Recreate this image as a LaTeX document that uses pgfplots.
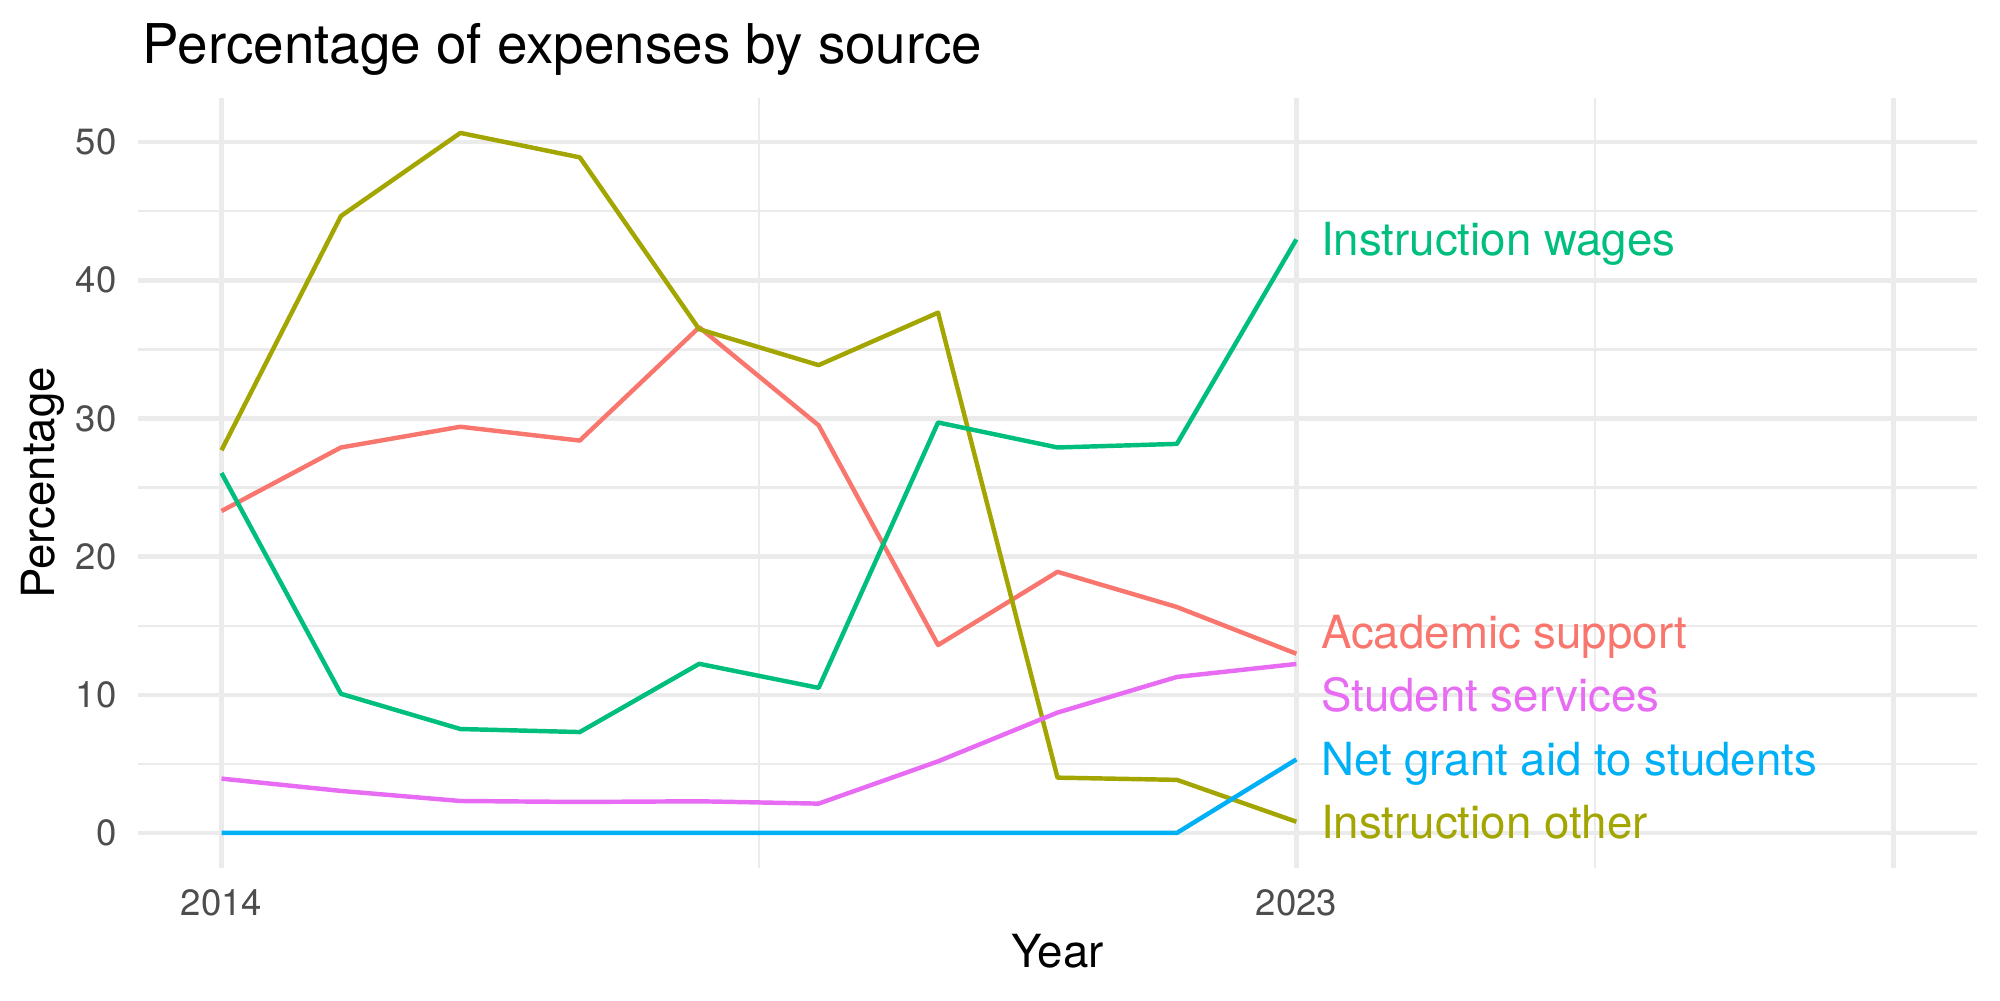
\documentclass[border=0pt]{standalone}
\usepackage{fontspec}
\setmainfont{TeX Gyre Heros}
\usepackage{pgfplots}
\pgfplotsset{compat=1.18}

\definecolor{gridmaj}{HTML}{EBEBEB}
\definecolor{ticktext}{HTML}{4D4D4D}
\definecolor{cAcad}{HTML}{F8766D}
\definecolor{cOther}{HTML}{A3A500}
\definecolor{cWages}{HTML}{00BF7D}
\definecolor{cGrant}{HTML}{00B0F6}
\definecolor{cStud}{HTML}{E76BF3}

\begin{document}
\begin{tikzpicture}
\useasboundingbox (0,0) rectangle (480bp,240bp);
\begin{axis}[
  at={(33.1bp,31.7bp)}, anchor=south west,
  scale only axis, width=441.4bp, height=184.8bp,
  xmin=2013.3, xmax=2028.7,
  ymin=-2.5335, ymax=53.2035,
  xtick={2014,2023,2028}, xticklabels={2014,2023,{}},
  minor xtick={2018.5,2025.5},
  ytick={0,10,20,30,40,50},
  minor ytick={5,15,25,35,45},
  grid=both,
  major grid style={draw=gridmaj, line width=1.067bp},
  minor grid style={draw=gridmaj, line width=0.533bp},
  axis line style={draw=none},
  major tick length=0pt, minor tick length=0pt,
  tick style={draw=none},
  /pgf/number format/assume math mode=true,
  ticklabel style={font=\fontsize{8.8}{10}\selectfont, text=ticktext},
  xticklabel style={anchor=north, inner sep=0pt, yshift=-4.95bp},
  yticklabel style={anchor=east, inner sep=0pt, xshift=-4.95bp},
  clip=false,
  every axis plot/.append style={line width=1.067bp, line join=round, mark=none},
]
% Academic support
\addplot[cAcad] coordinates {(2014,23.3) (2015,27.9) (2016,29.4) (2017,28.4) (2018,36.6) (2019,29.5) (2020,13.6) (2021,18.9) (2022,16.35) (2023,12.97)};
% Instruction other
\addplot[cOther] coordinates {(2014,27.7) (2015,44.65) (2016,50.67) (2017,48.9) (2018,36.46) (2019,33.86) (2020,37.66) (2021,4.0) (2022,3.84) (2023,0.81)};
% Instruction wages
\addplot[cWages] coordinates {(2014,26.05) (2015,10.07) (2016,7.52) (2017,7.3) (2018,12.24) (2019,10.5) (2020,29.71) (2021,27.9) (2022,28.16) (2023,42.96)};
% Net grant aid to students
\addplot[cGrant] coordinates {(2014,0) (2015,0) (2016,0) (2017,0) (2018,0) (2019,0) (2020,0) (2021,0) (2022,0) (2023,5.32)};
% Student services
\addplot[cStud] coordinates {(2014,3.93) (2015,3.04) (2016,2.31) (2017,2.24) (2018,2.29) (2019,2.12) (2020,5.18) (2021,8.71) (2022,11.29) (2023,12.23)};

% end-of-line series labels
\begin{scope}[every node/.style={anchor=base west, inner sep=0pt, font=\fontsize{11}{13}\selectfont}]
\node[text=cWages] at (axis cs:2023.2,41.77) {Instruction wages};
\node[text=cAcad]  at (axis cs:2023.2,13.36) {Academic support};
\node[text=cStud]  at (axis cs:2023.2,8.81)  {Student services};
\node[text=cGrant] at (axis cs:2023.2,4.13)  {Net grant aid to students};
\node[text=cOther] at (axis cs:2023.2,-0.38) {Instruction other};
\end{scope}
\end{axis}

% titles
\node[anchor=base west, inner sep=0pt, font=\fontsize{13.2}{15}\selectfont] at (34.1bp,224.7bp) {Percentage of expenses by source};
\node[anchor=base, inner sep=0pt, font=\fontsize{11}{13}\selectfont] at (253.8bp,7.9bp) {Year};
\node[rotate=90, anchor=base, inner sep=0pt, font=\fontsize{11}{13}\selectfont] at (13bp,124.1bp) {Percentage};
\end{tikzpicture}
\end{document}
